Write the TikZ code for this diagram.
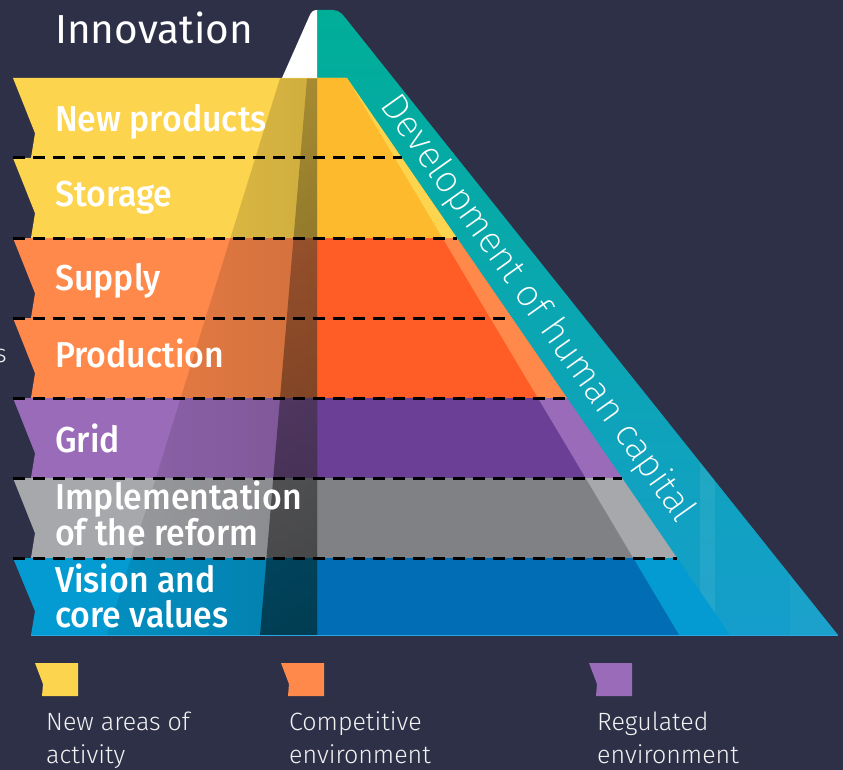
\documentclass[tikz,border=0pt]{standalone}
\usepackage{fontspec}
\setmainfont{Fira Sans}
\newfontfamily\labelfont{Fira Sans}[UprightFont=* Medium, FakeStretch=0.94]
\newfontfamily\lightfont{Fira Sans}[UprightFont=* Light]
\newfontfamily\thinfont{Fira Sans}[UprightFont=* ExtraLight]
\usetikzlibrary{fadings}

\definecolor{bg}{HTML}{2E3048}
\definecolor{yelL}{HTML}{FDD44D}
\definecolor{yelD}{HTML}{FDBA2C}
\definecolor{oraL}{HTML}{FF894B}
\definecolor{oraD}{HTML}{FF5D25}
\definecolor{purL}{HTML}{9A6BB9}
\definecolor{purD}{HTML}{6A3F95}
\definecolor{grayL}{HTML}{A7A8AC}
\definecolor{grayD}{HTML}{808185}
\definecolor{bluL}{HTML}{049BD2}
\definecolor{bluD}{HTML}{006DB5}
\definecolor{tealT}{HTML}{00AE98}
\definecolor{tealM}{HTML}{0AA6B4}
\definecolor{tealB}{HTML}{159ECC}
\definecolor{edgeblue}{HTML}{2AA8DF}
\definecolor{legtext}{HTML}{F2F2F2}

% shadow falling on the left face of the pyramid
\tikzfading[name=widefade, left color=transparent!92, right color=transparent!82]
\tikzfading[name=narrowfade, top color=transparent!80, bottom color=transparent!48]

\tikzset{
  lbl/.style={text=white, font=\labelfont\fontsize{36}{38}\selectfont, anchor=base west, inner sep=0pt},
  leg/.style={text=legtext, font=\lightfont\fontsize{25}{30}\selectfont, anchor=base west, inner sep=0pt},
  dashline/.style={black, line width=3pt, dash pattern=on 12pt off 8pt},
}

% outline of the human-capital band
\def\tealpath{(317,635) -- (317,10) -- (333,10) .. controls (340,10) and (343.8,16) .. (347,20) -- (838,635) -- cycle}

\begin{document}
\begin{tikzpicture}[x=1pt, y=-1pt]
  \fill[bg] (0,0) rectangle (843,770);
  \path[use as bounding box] (0,0) rectangle (843,770);

  % human-capital band
  \shade[top color=tealT, middle color=tealM, bottom color=tealB] \tealpath;
  \begin{scope}
    \clip \tealpath;
    \fill[white, opacity=0.07] (700,0) rectangle (715,640);
    \fill[white, opacity=0.03] (790,0) rectangle (843,640);
  \end{scope}

  % innovation peak
  \fill[white] (282,78) -- (309,17) .. controls (311,12) and (313,10) .. (317,10) -- (317,78) -- cycle;

  % pyramid layers
  \foreach \t/\b/\cl/\cd in {78/158/yelL/yelD, 158/238/yelL/yelD, 238/318/oraL/oraD,
      318/398/oraL/oraD, 398/478/purL/purD, 478/558/grayL/grayD, 558/635/bluL/bluD}{
    \pgfmathsetmacro\mt{347+0.6876*(\t-78)}
    \pgfmathsetmacro\mb{347+0.6876*(\b-78)}
    \pgfmathsetmacro\it{347+0.5961*(\t-78)}
    \pgfmathsetmacro\ib{347+0.5961*(\b-78)}
    \pgfmathsetmacro\nt{\t+0.69*(\b-\t)}
    \fill[\cl] (13,\t) -- (\mt,\t) -- (\mb,\b) -- (31,\b) -- (35,\nt) -- cycle;
    \fill[\cd] (317,\t) -- (\it,\t) -- (\ib,\b) -- (317,\b) -- cycle;
  }

  % shading of the left face
  \fill[black, path fading=widefade] (280,78) -- (317,78) -- (317,635) -- (107,635) -- cycle;
  \fill[black, path fading=narrowfade] (307,78) -- (317,78) -- (317,635) -- (260,635) -- cycle;

  % bottom edge
  \draw[edgeblue, line width=1pt] (31,635.5) -- (838,635.5);

  % dashed separators
  \foreach \y in {158,238,318,398,478,558}{
    \pgfmathsetmacro\m{347+0.6876*(\y-78)}
    \draw[dashline] (13,\y) -- (\m,\y);
  }

  % titles
  \node[text=white, font=\fontsize{40.5}{42}\selectfont, anchor=base west, inner sep=0pt] (innov) at (55,44) {Innovation};
  \node[rotate=-54.6, text=white, font=\thinfont\fontsize{37.5}{40}\selectfont, inner sep=0pt] (capital) at (537,309) {Development of human capital};

  \node[lbl] (newprod) at (55,132) {New products};
  \node[lbl] (storage) at (55,207) {Storage};
  \node[lbl] (supply) at (55,290) {Supply};
  \node[lbl] (production) at (55,367) {Production};
  \node[lbl] (grid) at (55,452) {Grid};
  \node[lbl] (impl) at (55,509) {Implementation};
  \node[lbl] (reform) at (55,545) {of the reform};
  \node[lbl] (vision) at (55,592) {Vision and};
  \node[lbl] (values) at (55,627) {core values};

  \node[leg, anchor=base east] (cut) at (7,362) {s};

  % legend
  \foreach \x/\c in {35/yelL, 281/oraL, 589/purL}{
    \fill[\c] (\x,663) -- (\x+43,663) -- (\x+43,696) -- (\x+7,696) -- (\x+8,684) -- cycle;
  }
  \node[leg] (legA1) at (46,730) {New areas of};
  \node[leg] (legA2) at (46,763) {activity};
  \node[leg] (legB1) at (289,730) {Competitive};
  \node[leg] (legB2) at (289,763) {environment};
  \node[leg] (legC1) at (597,730) {Regulated};
  \node[leg] (legC2) at (597,763) {environment};
\end{tikzpicture}
\end{document}
